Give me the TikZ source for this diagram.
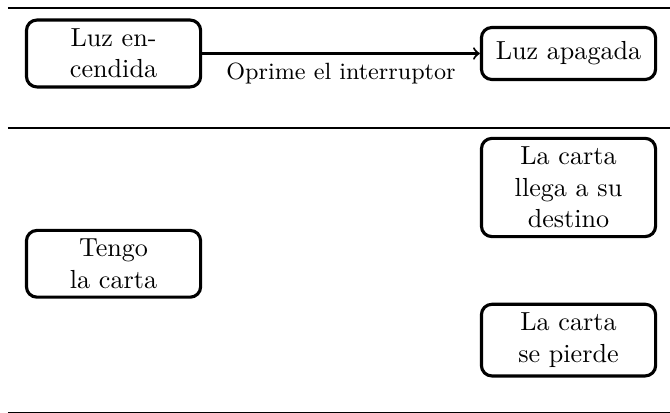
\documentclass[tikz,border=0pt]{standalone}
\begin{document}
\begin{tikzpicture}[>=to,line join=bevel,
  estado/.style={draw,very thick,rounded corners,text width=6em,align=center,minimum height=0.7cm},
  regla/.style={line width=0.8pt},]
%%
\useasboundingbox (0bp,0bp) rectangle (255.5bp,157.4bp);
\draw [regla] (3bp,154.3bp) -- (255.5bp,154.3bp);
\draw [line width=0.5pt] (3bp,108.6bp) -- (255.5bp,108.6bp);
\draw [regla] (3bp,0bp) -- (255.5bp,0bp);
%
\node (node_0) at (43.3bp,137.0bp) [estado] {Luz en-\\cendida};
  \node (node_1) at (216.8bp,137.0bp) [estado] {Luz apagada};
  \node (node_2) at (43.3bp,56.8bp) [estado] {Tengo\\la carta};
  \node (node_3) at (216.8bp,85.9bp) [estado] {La carta\\llega a su\\destino};
  \node (node_4) at (216.8bp,27.7bp) [estado] {La carta\\se pierde};
  \draw [black,thick,->] (node_0) -- node [below] {\small Oprime el interruptor} (node_1);
%
\end{tikzpicture}
\end{document}
